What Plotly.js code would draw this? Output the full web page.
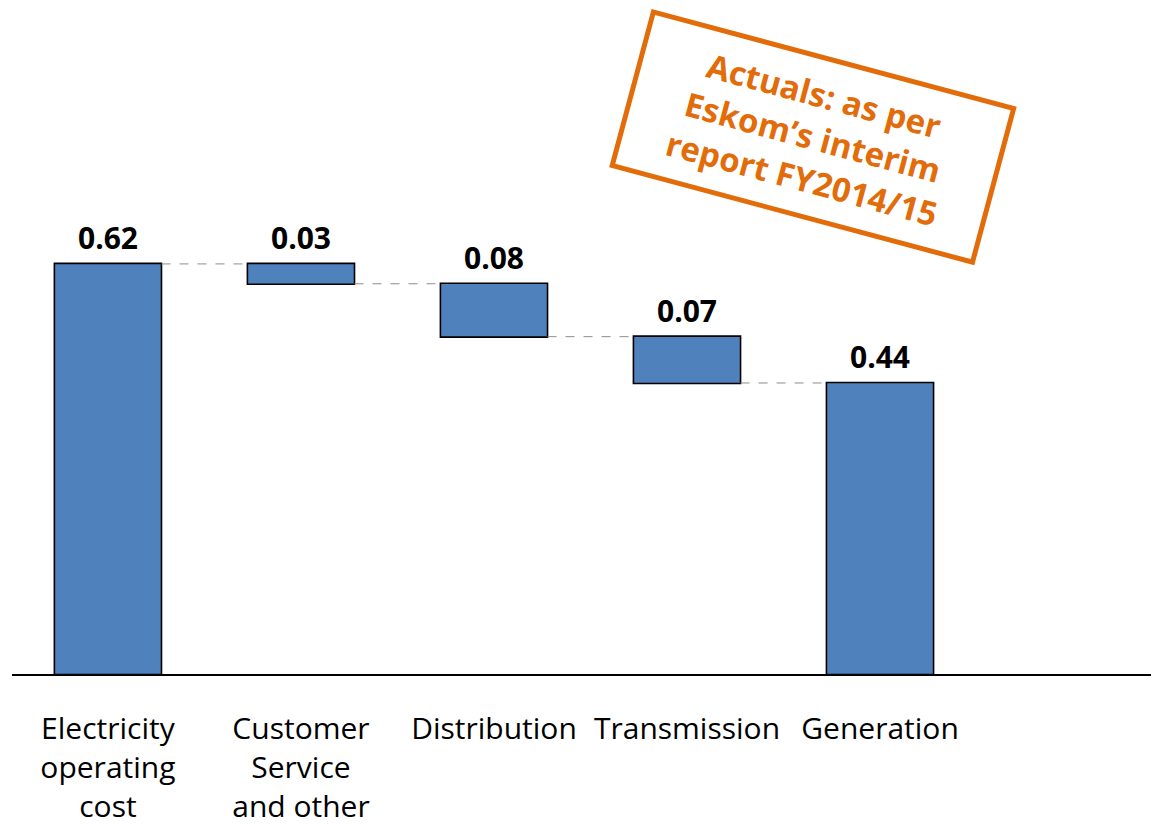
<!DOCTYPE html>
<html>
<head>
<meta charset="utf-8">
<script src="https://cdn.plot.ly/plotly-3.0.1.min.js"></script>
<style>
  html, body { margin: 0; padding: 0; background: #ffffff; }
  #chart { width: 1151px; height: 825px; }
</style>
</head>
<body>
<div id="chart"></div>
<script>
// Cost breakdown steps (R/kWh)
const categories = [
  'Electricity<br>operating<br>cost',
  'Customer<br>Service<br>and other',
  'Distribution',
  'Transmission',
  'Generation'
];
const measures = ['absolute', 'relative', 'relative', 'relative', 'total'];
const amounts = [0.62, -0.03, -0.08, -0.07, 0];

const stampText = 'Actuals: as per<br>Eskom’s interim<br>report FY2014/15';

// Running totals give the top of each bar and the value each label shows
const tops = [];
const labels = [];
let running = 0;
measures.forEach((m, i) => {
  if (m === 'absolute') {
    running = amounts[i];
    tops.push(running);
    labels.push(running);
  } else if (m === 'relative') {
    const before = running;
    running += amounts[i];
    tops.push(Math.max(before, running));
    labels.push(Math.abs(amounts[i]));
  } else {
    tops.push(running);
    labels.push(running);
  }
});

const xIdx = categories.map((_, i) => i);

const trace = {
  type: 'waterfall',
  x: xIdx,
  y: amounts,
  measure: measures,
  width: 0.555,
  textinfo: 'none',
  hoverinfo: 'skip',
  increasing: { marker: { color: '#4F81BD', line: { color: '#000000', width: 1.6 } } },
  decreasing: { marker: { color: '#4F81BD', line: { color: '#000000', width: 1.6 } } },
  totals:     { marker: { color: '#4F81BD', line: { color: '#000000', width: 1.6 } } },
  connector: { mode: 'between', line: { color: '#8c8c8c', width: 1, dash: 'dash' } }
};

const valueNotes = xIdx.map(i => ({
  x: i,
  y: tops[i],
  xref: 'x',
  yref: 'y',
  text: labels[i].toFixed(2),
  showarrow: false,
  yanchor: 'bottom',
  yshift: 4,
  font: { family: 'Open Sans, sans-serif', size: 30, color: '#000000', weight: 'bold' }
}));

const stamp = {
  xref: 'paper',
  yref: 'paper',
  x: 0.703,
  y: 0.797,
  xanchor: 'center',
  yanchor: 'middle',
  text: stampText,
  showarrow: false,
  textangle: 15,
  width: 362,
  height: 148,
  align: 'center',
  valign: 'middle',
  bordercolor: '#E36C0A',
  borderwidth: 5,
  borderpad: 3,
  bgcolor: 'rgba(255,255,255,0)',
  font: { family: 'Open Sans, sans-serif', size: 33, color: '#E36C0A', weight: 'bold' }
};

const layout = {
  width: 1151,
  height: 825,
  margin: { l: 12, r: 0, t: 0, b: 151 },
  paper_bgcolor: '#ffffff',
  plot_bgcolor: '#ffffff',
  showlegend: false,
  xaxis: {
    type: 'linear',
    range: [-0.497, 5.404],
    tickmode: 'array',
    tickvals: xIdx,
    ticktext: categories,
    showgrid: false,
    zeroline: false,
    showline: true,
    linecolor: '#000000',
    linewidth: 2,
    ticks: '',
    ticklabelstandoff: 27,
    tickfont: { family: 'Open Sans, sans-serif', size: 30, color: '#000000' }
  },
  yaxis: {
    range: [0, 1.019],
    visible: false,
    showgrid: false,
    zeroline: false
  },
  annotations: valueNotes.concat([stamp])
};

Plotly.newPlot('chart', [trace], layout, { displayModeBar: false, staticPlot: true });
</script>
</body>
</html>
